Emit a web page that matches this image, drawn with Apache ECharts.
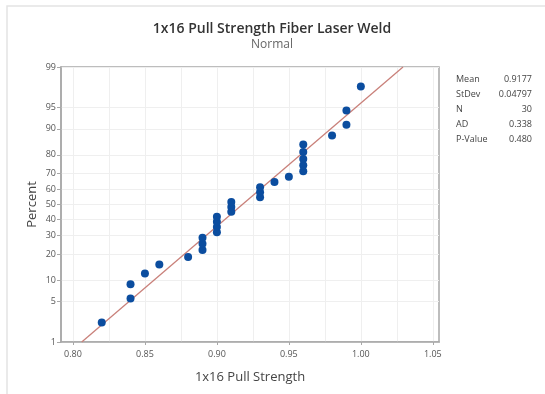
<!DOCTYPE html>
<html><head><meta charset="utf-8">
<script src="https://cdn.jsdelivr.net/npm/echarts@6/dist/echarts.min.js"></script>
<style>html,body{margin:0;padding:0;background:#fff}#c{width:545px;height:394px}</style>
</head><body><div id="c"></div>
<script>
const pullStrength = [0.82,0.84,0.84,0.85,0.86,0.88,0.89,0.89,0.89,0.90,0.90,0.90,0.90,0.91,0.91,0.91,0.93,0.93,0.93,0.94,0.95,0.96,0.96,0.96,0.96,0.96,0.98,0.99,0.99,1.00];
const percentPos = [2.30,5.59,8.88,12.17,15.46,18.75,22.04,25.33,28.62,31.91,35.20,38.49,41.78,45.07,48.36,51.64,54.93,58.22,61.51,64.80,68.09,71.38,74.67,77.96,81.25,84.54,87.83,91.12,94.41,97.70];
const percentTicks = [1,5,10,20,30,40,50,60,70,80,90,95,99];
const xLabelTicks = [0.80,0.85,0.90,0.95,1.00,1.05];
const xGridTicks = [0.80,0.825,0.85,0.875,0.90,0.925,0.95,0.975,1.00,1.025,1.05];
const statNames = ['Mean','StDev','N','AD','P-Value'];
const statValues = ['0.9177','0.04797','30','0.338','0.480'];
const fitMean = 0.9177, fitStDev = 0.04797;
const xMin = 0.7917, xMax = 1.0543;

// inverse standard normal CDF (Acklam)
function invNorm(p){
  const a=[-3.969683028665376e+01,2.209460984245205e+02,-2.759285104469687e+02,1.383577518672690e+02,-3.066479806614716e+01,2.506628277459239e+00];
  const b=[-5.447609879822406e+01,1.615858368580409e+02,-1.556989798598866e+02,6.680131188771972e+01,-1.328068155288572e+01];
  const c=[-7.784894002430293e-03,-3.223964580411365e-01,-2.400758277161838e+00,-2.549732539343734e+00,4.374664141464968e+00,2.938163982698783e+00];
  const d=[7.784695709041462e-03,3.224671290700398e-01,2.445134137142996e+00,3.754408661907416e+00];
  const pl=0.02425, ph=1-pl; let q,r;
  if(p<pl){q=Math.sqrt(-2*Math.log(p));return (((((c[0]*q+c[1])*q+c[2])*q+c[3])*q+c[4])*q+c[5])/((((d[0]*q+d[1])*q+d[2])*q+d[3])*q+1);}
  if(p<=ph){q=p-0.5;r=q*q;return (((((a[0]*r+a[1])*r+a[2])*r+a[3])*r+a[4])*r+a[5])*q/(((((b[0]*r+b[1])*r+b[2])*r+b[3])*r+b[4])*r+1);}
  q=Math.sqrt(-2*Math.log(1-p));return -(((((c[0]*q+c[1])*q+c[2])*q+c[3])*q+c[4])*q+c[5])/((((d[0]*q+d[1])*q+d[2])*q+d[3])*q+1);
}
const zTicks = percentTicks.map(p => invNorm(p/100));
const zMin = zTicks[0], zMax = zTicks[zTicks.length-1];
const points = pullStrength.map((v,i) => [v, invNorm(percentPos[i]/100)]);
const fitLine = [[fitMean + zMin*fitStDev, zMin],[fitMean + zMax*fitStDev, zMax]];

const font = '"Open Sans", "Noto Sans", sans-serif';
const chart = echarts.init(document.getElementById('c'), null, {renderer:'canvas'});

const statGraphics = [];
statNames.forEach((n,i)=>{
  statGraphics.push({type:'text', left:456, top:75+15*i, style:{text:n, fontSize:9, fontFamily:font, fill:'#444'}});
  statGraphics.push({type:'text', right:13, top:75+15*i, style:{text:statValues[i], fontSize:9, fontFamily:font, fill:'#444', textAlign:'right'}});
});

chart.setOption({
  animation:false,
  backgroundColor:'#fff',
  title:{
    text:'1x16 Pull Strength Fiber Laser Weld', subtext:'Normal',
    left:267, top:17, textAlign:'center', itemGap:3,
    textStyle:{fontSize:14, fontWeight:600, color:'#333', fontFamily:font},
    subtextStyle:{fontSize:12, color:'#666', fontFamily:font}
  },
  graphic:[
    {type:'polyline', silent:true, shape:{points:[[7,400],[7,6],[560,6]]}, style:{stroke:'#e4e4e4', lineWidth:1.5, fill:null}}
  ].concat(statGraphics),
  grid:{left:61, right:106, top:67, bottom:52, show:true, borderColor:'#a8a8a8', borderWidth:1.5, backgroundColor:'transparent'},
  xAxis:[{
    type:'value', min:xMin, max:xMax,
    name:'1x16 Pull Strength', nameLocation:'middle', nameGap:29, nameMoveOverlap:false,
    nameTextStyle:{fontSize:13, color:'#444', fontFamily:font},
    axisLine:{show:true, onZero:false, lineStyle:{color:'#a8a8a8', width:1.5}},
    axisTick:{show:false, customValues:xGridTicks},
    axisLabel:{customValues:xLabelTicks, fontSize:9, color:'#555', fontFamily:font, margin:8, formatter:v=>v.toFixed(2)},
    splitLine:{show:true, lineStyle:{color:'#efefef', width:1}}
  },{
    type:'value', min:xMin, max:xMax, position:'bottom',
    axisLine:{show:false, onZero:false},
    axisTick:{show:true, customValues:xLabelTicks, length:3, lineStyle:{color:'#a8a8a8'}},
    axisLabel:{show:false}, splitLine:{show:false}
  }],
  yAxis:{
    type:'value', min:zMin, max:zMax,
    name:'Percent', nameLocation:'middle', nameGap:22, nameRotate:90, nameMoveOverlap:false,
    nameTextStyle:{fontSize:13, color:'#444', fontFamily:font},
    axisLine:{show:true, onZero:false, lineStyle:{color:'#a8a8a8', width:1.5}},
    axisTick:{show:true, customValues:zTicks, length:4, lineStyle:{color:'#a8a8a8'}},
    axisLabel:{customValues:zTicks, fontSize:9, color:'#555', fontFamily:font, margin:5,
      formatter:v=>{let best=0,bd=1e9;zTicks.forEach((z,i)=>{const d=Math.abs(z-v);if(d<bd){bd=d;best=i;}});return String(percentTicks[best]);}},
    splitLine:{show:true, lineStyle:{color:'#efefef', width:1}}
  },
  series:[
    {type:'line', data:fitLine, xAxisIndex:0, symbol:'none', lineStyle:{color:'#c9807a', width:1.3}, silent:true, z:2, clip:true},
    {type:'scatter', data:points, xAxisIndex:0, symbol:'circle', symbolSize:8, itemStyle:{color:'#0b4d9f', opacity:1}, z:3}
  ]
});
</script></body></html>
